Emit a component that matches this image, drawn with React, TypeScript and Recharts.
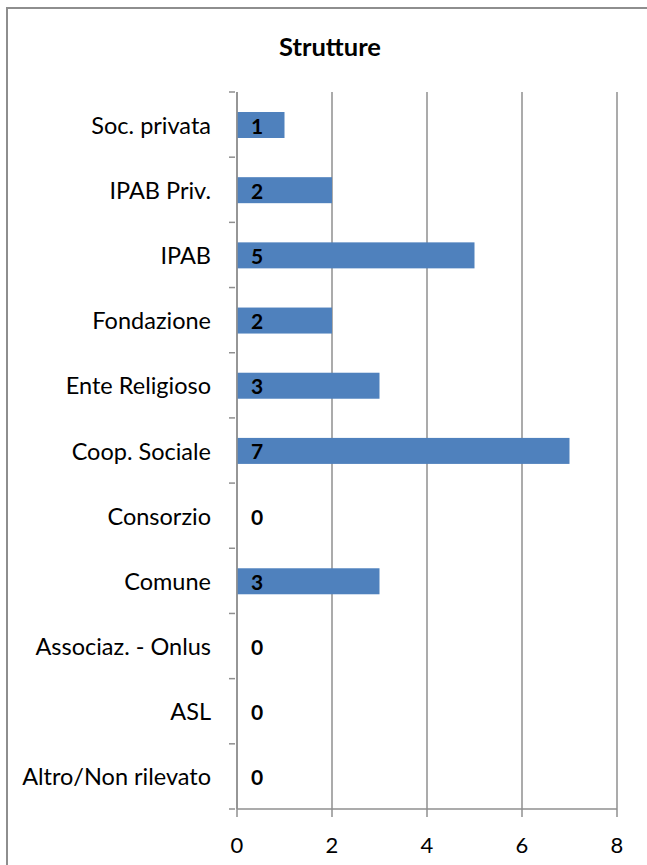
import { BarChart, Bar, XAxis, YAxis, CartesianGrid, LabelList } from 'recharts'

const categories = [
  'Soc. privata',
  'IPAB Priv.',
  'IPAB',
  'Fondazione',
  'Ente Religioso',
  'Coop. Sociale',
  'Consorzio',
  'Comune',
  'Associaz. - Onlus',
  'ASL',
  'Altro/Non rilevato',
]
const counts = [1, 2, 5, 2, 3, 7, 0, 3, 0, 0, 0]
const xTicks = [0, 2, 4, 6, 8]

const data = categories.map((name, i) => ({ name, value: counts[i] }))

const axisGray = '#8f8f8f'
const barBlue = '#4f81bd'
const font = 'Lato, "Open Sans", sans-serif'

// category tick: label on the left, short tick marks on the band edges (Excel style)
function CategoryTick(props: any) {
  const { x, y, payload, index, visibleTicksCount } = props
  const half = payload.offset || 32.6
  const ax = x + 6
  return (
    <g>
      <text x={x - 18} y={y} textAnchor="end" dominantBaseline="central" fontSize={23.5} fill="#000" fontFamily={font}>
        {payload.value}
      </text>
      <line x1={ax - 6} x2={ax} y1={y - half} y2={y - half} stroke={axisGray} strokeWidth={1.5} />
      {index === visibleTicksCount - 1 && (
        <line x1={ax - 6} x2={ax} y1={y + half} y2={y + half} stroke={axisGray} strokeWidth={1.5} />
      )}
    </g>
  )
}

// zero values get a 1px min size so the label still renders, but no visible bar
function BarShape(props: any) {
  const { x, y, width, height, payload } = props
  if (!payload || !payload.value) return <g />
  return <rect x={x} y={y} width={width} height={height} fill={barBlue} />
}

// value label at the start of the bar, also drawn for zero values
function ValueLabel(props: any) {
  const { x, y, height, value } = props
  return (
    <text
      x={x + 14}
      y={y + height / 2}
      dominantBaseline="central"
      fontSize={21}
      fontWeight="bold"
      fill="#000"
      fontFamily={font}
    >
      {value}
    </text>
  )
}

export default function App() {
  return (
    <div style={{ position: 'relative', width: 647, height: 865, background: '#fff', overflow: 'hidden' }}>
      <style>{'body{margin:0}'}</style>
      <div
        style={{
          position: 'absolute',
          left: 6,
          top: 7,
          width: 700,
          height: 900,
          borderLeft: '2px solid #8e8e8e',
          borderTop: '2px solid #8e8e8e',
        }}
      />
      <div
        style={{
          position: 'absolute',
          left: 0,
          width: 660,
          top: 31,
          textAlign: 'center',
          fontFamily: font,
          fontWeight: 'bold',
          fontSize: 25.5,
          color: '#000',
        }}
      >
        Strutture
      </div>
      <div style={{ position: 'absolute', left: 0, top: 0 }}>
        <BarChart
          width={647}
          height={865}
          data={data}
          layout="vertical"
          margin={{ top: 92, right: 30, bottom: 0, left: 0 }}
        >
          <CartesianGrid horizontal={false} stroke={axisGray} strokeWidth={1.5} strokeOpacity={1} />
          <XAxis
            type="number"
            domain={[0, 8]}
            ticks={xTicks}
            height={56}
            tickSize={8}
            tickMargin={20}
            axisLine={{ stroke: axisGray, strokeWidth: 1.5 }}
            tickLine={{ stroke: axisGray, strokeWidth: 1.5 }}
            tick={{ fontSize: 22, fill: '#000', fontFamily: font }}
          />
          <YAxis
            type="category"
            dataKey="name"
            width={237}
            interval={0}
            tickLine={false}
            axisLine={{ stroke: axisGray, strokeWidth: 1.5 }}
            tick={<CategoryTick />}
          />
          <Bar
            dataKey="value"
            fill={barBlue}
            barSize={26}
            minPointSize={1}
            shape={<BarShape />}
            isAnimationActive={false}
          >
            <LabelList dataKey="value" content={<ValueLabel />} />
          </Bar>
        </BarChart>
      </div>
    </div>
  )
}
